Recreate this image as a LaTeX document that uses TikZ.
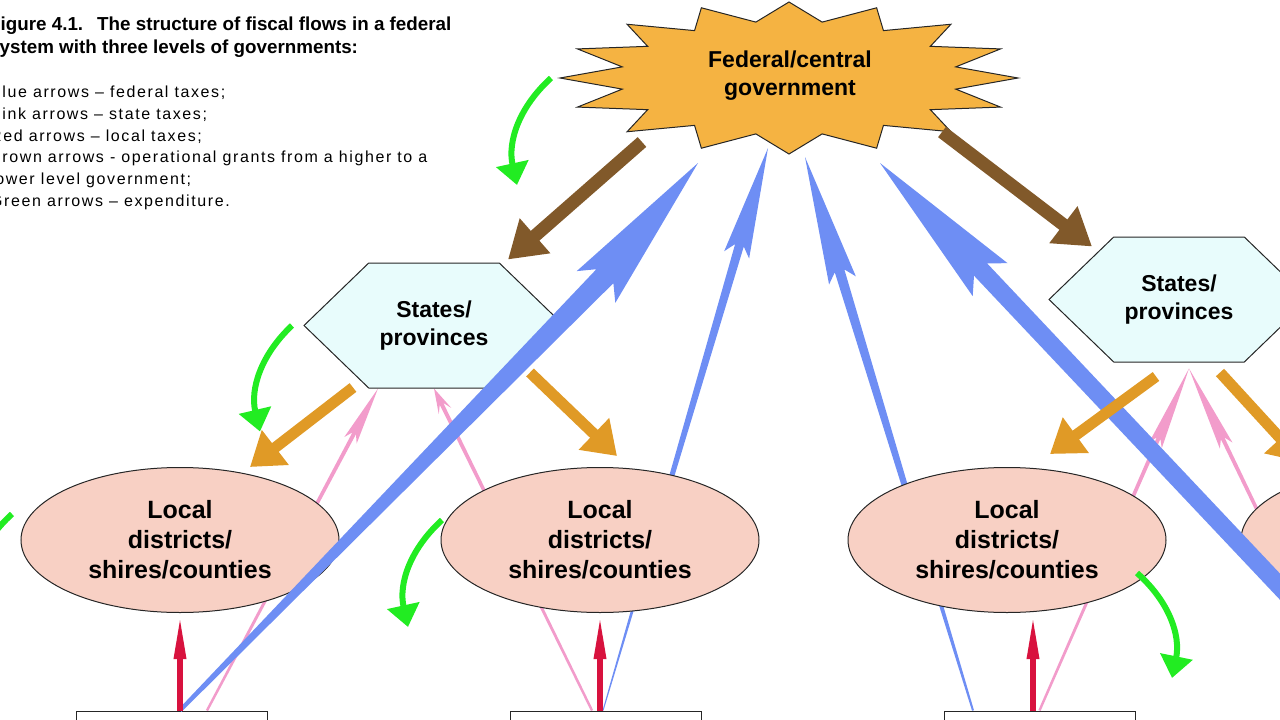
\documentclass[tikz,border=0pt]{standalone}
\usepackage{fontspec}
\setmainfont{Liberation Sans}
\newfontfamily\legendfont{Liberation Sans}[LetterSpace=10]
\usetikzlibrary{shapes.geometric,shapes.symbols,arrows.meta,calc,backgrounds}

\definecolor{fedorange}{HTML}{F5B342}
\definecolor{statecyan}{HTML}{E8FCFC}
\definecolor{localpink}{HTML}{F8D0C4}
\definecolor{taxblue}{HTML}{6E8EF4}
\definecolor{taxpink}{HTML}{F29CCB}
\definecolor{taxred}{HTML}{D8123E}
\definecolor{grantbrown}{HTML}{81592A}
\definecolor{grantorange}{HTML}{E09A26}
\definecolor{spendgreen}{HTML}{22EC22}

% #1 style, #2 tail, #3 head, #4 tip, #5 tail half width,
% #6 shaft half width, #7 barb half width, #8 notch
\newcommand{\taxflow}[8]{%
  \path[#1] ($(#2)!#5!-90:(#3)$)
    -- ($(#3)!#8!(#4)!#6!-90:(#4)$)
    -- ($(#3)!#7!-90:(#4)$)
    -- (#4)
    -- ($(#3)!#7!90:(#4)$)
    -- ($(#3)!#8!(#4)!#6!90:(#4)$)
    -- ($(#2)!#5!90:(#3)$) -- cycle;}

\tikzset{
  govt/.style={font=\bfseries\fontsize{23}{28}\selectfont, align=center, inner sep=0pt},
  fedstar/.style={fill=fedorange, draw=black!85, line width=1pt},
  state/.style={signal, signal to=west and east, signal pointer angle=88,
    draw=black!85, line width=1pt, fill=statecyan,
    minimum width=260pt, minimum height=125pt, inner sep=0pt,
    align=center, font=\bfseries\fontsize{23}{28}\selectfont},
  local/.style={ellipse, draw=black!85, line width=1pt, fill=localpink,
    minimum width=318pt, minimum height=145pt, inner sep=0pt,
    align=center, font=\bfseries\fontsize{25}{30}\selectfont},
  town/.style={draw=black!85, line width=1pt, fill=white,
    minimum width=191pt, minimum height=60pt},
  fedtax/.style={fill=taxblue},
  statetax/.style={fill=taxpink},
  localtax/.style={draw=taxred, line width=6pt, -{Triangle[length=46pt,width=11pt]}},
  grant/.style={draw=grantbrown, line width=13pt, -{Triangle[length=36pt,width=44pt]}},
  subgrant/.style={draw=grantorange, line width=11pt, -{Triangle[length=32pt,width=42pt]}},
  spend/.style={draw=spendgreen, line width=6pt, -{Triangle[length=22pt,width=32pt]}}
}

\begin{document}
\begin{tikzpicture}[x=1pt,y=-1pt]
  \useasboundingbox (0,0) rectangle (1280,720);
  \clip (0,0) rectangle (1280,720);

  % the three levels
  \draw[fedstar, shift={(789,78)}] (0:229pt and 76pt)
    \foreach \a in {0,22.5,...,337.5} {
      -- ({\a+11.25}:170pt and 57pt) -- ({\a+22.5}:229pt and 76pt)} -- cycle;
  \node[govt] (fed) at (790,76) {Federal/central\\government};
  \node[state] (stateL) at (434,325.5) {States/\\provinces};
  \node[state] (stateR) at (1179,299.5) {States/\\provinces};
  \node[local] (localL) at (180,540) {Local\\districts/\\shires/counties};
  \node[local] (localM) at (600,540) {Local\\districts/\\shires/counties};
  \node[local] (localR) at (1007,540) {Local\\districts/\\shires/counties};
  \node[local] (localX) at (1400,540) {};
  \node[town] (townL) at (171.5,741) {};
  \node[town] (townM) at (605.5,741) {};
  \node[town] (townR) at (1039.5,741) {};

  % federal taxes
  \coordinate (f1) at (698,163);
  \coordinate (f2) at (768,148);
  \coordinate (f3) at (805,157);
  \coordinate (f4) at (880,163);
  \coordinate (b1) at ([xshift=8.5pt]townL.north);
  \coordinate (b1h) at (596,287);
  \coordinate (b2) at ([xshift=-2.5pt]townM.north);
  \coordinate (b2h) at ($(b2)!0.81!(f2)$);
  \coordinate (b3) at ([xshift=-66.5pt]townR.north);
  \coordinate (b3h) at ($(b3)!0.777!(f3)$);
  \coordinate (b4) at (1420,735);
  \coordinate (b4h) at ($(b4)!0.796!(f4)$);

  % state taxes
  \coordinate (p1) at ([xshift=35.5pt]townL.north);
  \coordinate (s1) at ([xshift=-56pt]stateL.south);
  \coordinate (p1h) at ($(p1)!0.839!(s1)$);
  \coordinate (p2) at ([xshift=-13.5pt]townM.north);
  \coordinate (p2h) at ($(p2)!0.93!(stateL.south)$);
  \coordinate (p3) at (townR.north);
  \coordinate (s3) at ([shift={(10,6)}]stateR.south);
  \coordinate (p3h) at ($(p3)!0.775!(s3)$);
  \coordinate (p4) at (1354,711);
  \coordinate (p4h) at ($(p4)!0.775!(s3)$);

  \begin{scope}[on background layer]
    \taxflow{statetax}{p1}{p1h}{s1}{1.2pt}{2pt}{7pt}{8pt}
    \taxflow{statetax}{p2}{p2h}{stateL.south}{1.2pt}{2pt}{7pt}{8pt}
    \taxflow{statetax}{p3}{p3h}{s3}{1.2pt}{2pt}{7pt}{8pt}
    \taxflow{statetax}{p4}{p4h}{s3}{1.2pt}{2pt}{7pt}{8pt}
    \taxflow{fedtax}{b2}{b2h}{f2}{0.5pt}{4.5pt}{13pt}{10pt}
    \taxflow{fedtax}{b3}{b3h}{f3}{1pt}{5pt}{14pt}{10pt}
  \end{scope}
  \taxflow{fedtax}{b1}{b1h}{f1}{2pt}{11pt}{25pt}{14pt}
  \taxflow{fedtax}{b4}{b4h}{f4}{9pt}{9pt}{24pt}{14pt}

  % local taxes
  \coordinate (rR) at ([xshift=-6.5pt]townR.north);
  \draw[localtax] (townL.north -| localL.south) -- (localL.south);
  \draw[localtax] (townM.north -| localM.south) -- (localM.south);
  \draw[localtax] (rR) -- (rR |- localR.south);

  % grants
  \draw[grant] ([shift={(-148,66)}]fed.center) -- ([shift={(74,-66)}]stateL.center);
  \draw[grant] ([shift={(152,56)}]fed.center) -- ([shift={(-87,-53)}]stateR.center);
  \draw[subgrant] ([shift={(-81,62)}]stateL.center) -- ([shift={(70,-73)}]localL.center);
  \draw[subgrant] ([shift={(96,47)}]stateL.center) -- ([shift={(17,-84)}]localM.center);
  \draw[subgrant] ([shift={(-23,77)}]stateR.center) -- ([shift={(43,-86)}]localR.center);
  \draw[subgrant] ([shift={(41,73)}]stateR.center) -- ([shift={(-98,-78)}]localX.center);

  % expenditure
  \draw[spend] ([shift={(-239,2)}]fed.center) to[bend right=30] ([shift={(-273,109)}]fed.center);
  \draw[spend] ([shift={(-142,0)}]stateL.center) to[bend right=30] ([shift={(-174,106)}]stateL.center);
  \draw[spend] ([shift={(-158,-20)}]localM.center) to[bend right=30] ([shift={(-192,87)}]localM.center);
  \draw[spend] ([shift={(130,33)}]localR.center) to[bend left=30] ([shift={(165,138)}]localR.center);
  \draw[spend] ([shift={(-168,-26)}]localL.center) to[bend right=30] ([shift={(-202,80)}]localL.center);

  % caption
  \node[anchor=north west, inner sep=0pt, align=left,
    font={\bfseries\fontsize{18.8}{22.3}\selectfont}] (caption) at (-11,17)
    {Figure 4.1.\hspace{14pt}The structure of fiscal flows in a federal\\
     system with three levels of governments:};
  \node[anchor=north west, inner sep=0pt, align=left,
    font={\legendfont\fontsize{16}{21.7}\selectfont}] (legend) at (-10,86)
    {Blue arrows – federal taxes;\\
     Pink arrows – state taxes;\\
     Red arrows – local taxes;\\
     Brown arrows - operational grants from a higher to a\\
     lower level government;\\
     Green arrows – expenditure.};
\end{tikzpicture}
\end{document}
